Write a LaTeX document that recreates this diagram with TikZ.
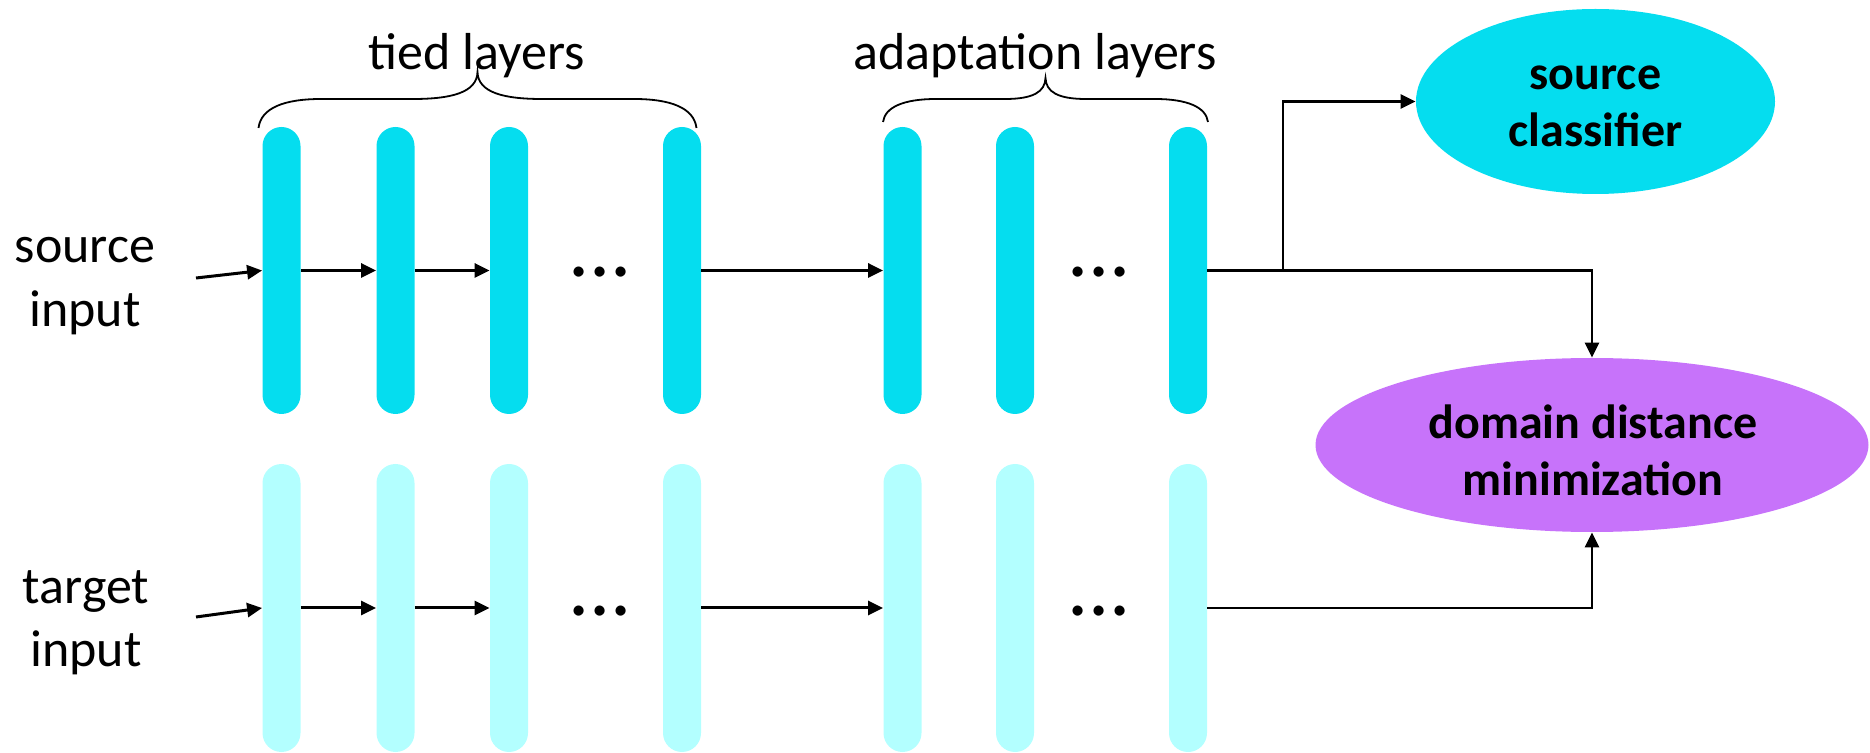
\documentclass[tikz,border=0pt]{standalone}
\usepackage{fontspec}
\setmainfont{Carlito}
\usetikzlibrary{arrows.meta,shapes.geometric}
\definecolor{srccyan}{RGB}{5,221,239}
\definecolor{tgtcyan}{RGB}{179,255,255}
\definecolor{ddpurple}{RGB}{199,115,250}
\tikzset{
  sbar/.style={draw=none, fill=srccyan, minimum width=19pt, minimum height=143.5pt, rounded corners=9.5pt, inner sep=0pt},
  tbar/.style={draw=none, fill=tgtcyan, minimum width=19pt, minimum height=144pt, rounded corners=9.5pt, inner sep=0pt},
  arr/.style={line width=1.5pt, -{Triangle[length=7.5pt,width=7pt]}},
  conn/.style={line width=1.35pt, -{Triangle[length=7.5pt,width=7pt]}},
  bracepath/.style={line width=0.9pt},
  lbl/.style={font=\fontsize{26}{32}\selectfont, align=center, inner sep=0pt},
  blbl/.style={font=\fontsize{24}{28.5}\selectfont\bfseries, align=center, inner sep=0pt},
  dots/.style={font=\fontsize{42}{42}\selectfont, inner sep=0pt, anchor=base},
  ell/.style={ellipse, draw=none, inner sep=0pt}
}
\begin{document}
\begin{tikzpicture}[x=0.5pt, y=-0.5pt]
\useasboundingbox (0,0) rectangle (1870,753);
% source row bars
\node[sbar] (s1) at (281.5,270.5) {};
\node[sbar] (s2) at (395.5,270.5) {};
\node[sbar] (s3) at (509,270.5) {};
\node[sbar] (s4) at (682,270.5) {};
\node[sbar] (s5) at (902.5,270.5) {};
\node[sbar] (s6) at (1015,270.5) {};
\node[sbar] (s7) at (1188,270.5) {};
% target row bars
\node[tbar] (t1) at (281.5,608) {};
\node[tbar] (t2) at (395.5,608) {};
\node[tbar] (t3) at (509,608) {};
\node[tbar] (t4) at (682,608) {};
\node[tbar] (t5) at (902.5,608) {};
\node[tbar] (t6) at (1015,608) {};
\node[tbar] (t7) at (1188,608) {};
% dots
\node[dots] (sd1) at (600,277) {...};
\node[dots] (sd2) at (1099,277) {...};
\node[dots] (td1) at (600,616) {...};
\node[dots] (td2) at (1099,616) {...};
% input labels (base = last line baseline)
\node[lbl, anchor=base] (srcin) at (85,327) {source\\input};
\node[lbl, anchor=base] (tgtin) at (86,667) {target\\input};
\coordinate (si) at (196,278);
\coordinate (ti) at (196,617);
% ellipses
\node[ell, fill=srccyan, minimum width=179.5pt, minimum height=92.5pt] (sc) at (1595.5,101.5) {};
\node[blbl, anchor=base] (sctext) at (1595.5,147) {source\\classifier};
\node[ell, fill=ddpurple, minimum width=276.5pt, minimum height=87pt] (dd) at (1592,445) {};
\node[blbl, anchor=base] (ddtext) at (1593,496) {domain distance\\minimization};
% brace labels
\node[lbl, anchor=base] (tiedlbl) at (477,70) {tied layers};
\node[lbl, anchor=base] (adaptlbl) at (1035,70) {adaptation layers};
% braces
\draw[bracepath] (258.5,128) .. controls (261,108) and (284,99) .. (321,99) -- (413,99)
  .. controls (450,99) and (477,93) .. (477.5,72)
  .. controls (478,93) and (505,99) .. (542,99) -- (634,99)
  .. controls (671,99) and (694,108) .. (696.5,128);
\draw[bracepath] (883,122) .. controls (885,107) and (904,99) .. (936,99) -- (1005,99)
  .. controls (1033,99) and (1045,92) .. (1045.5,78)
  .. controls (1046,92) and (1058,99) .. (1086,99) -- (1155,99)
  .. controls (1187,99) and (1206,107) .. (1208,122);
% arrows source
\draw[arr] (si) -- (s1.west);
\draw[arr] (s1.east) -- (s2.west);
\draw[arr] (s2.east) -- (s3.west);
\draw[arr] (s4.east) -- (s5.west);
% arrows target
\draw[arr] (ti) -- (t1.west);
\draw[arr] (t1.east) -- (t2.west);
\draw[arr] (t2.east) -- (t3.west);
\draw[arr] (t4.east) -- (t5.west);
% outputs
\coordinate (br) at (1283,270.5);
\draw[conn] (s7.east) -| (dd.north);
\draw[conn] (br) |- (sc.west);
\draw[conn] (t7.east) -| (dd.south);
\end{tikzpicture}
\end{document}
